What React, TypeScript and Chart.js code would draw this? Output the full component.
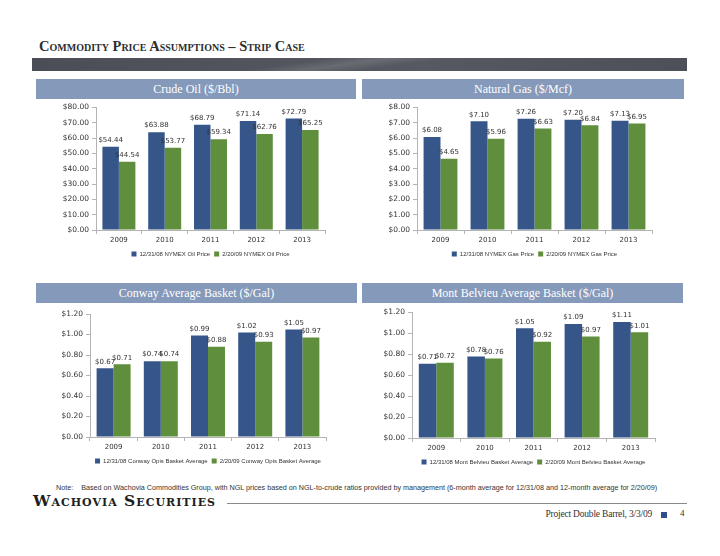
import React, { useEffect, useRef } from "react";
import { Chart, registerables } from "chart.js";

Chart.register(...registerables);

const years = ["2009", "2010", "2011", "2012", "2013"];

const oilDec = [54.44, 63.88, 68.79, 71.14, 72.79];
const oilFeb = [44.54, 53.77, 59.34, 62.76, 65.25];
const oilTicks = { max: 80, step: 10 };

const gasDec = [6.08, 7.1, 7.26, 7.2, 7.13];
const gasFeb = [4.65, 5.96, 6.63, 6.84, 6.95];
const gasTicks = { max: 8, step: 1 };

const conwayDec = [0.67, 0.74, 0.99, 1.02, 1.05];
const conwayFeb = [0.71, 0.74, 0.88, 0.93, 0.97];
const conwayTicks = { max: 1.2, step: 0.2 };

const belvieuDec = [0.71, 0.78, 1.05, 1.09, 1.11];
const belvieuFeb = [0.72, 0.76, 0.92, 0.97, 1.01];
const belvieuTicks = { max: 1.2, step: 0.2 };

const BLUE = "#36568a";
const GREEN = "#5f8f3c";
const AXIS = "#b4b4b4";
const TXT = "#333333";
const SANS = "'DejaVu Sans', sans-serif";
const ARIAL = "'Liberation Sans', sans-serif";

const valueLabels = {
  id: "valueLabels",
  afterDatasetsDraw(chart: any) {
    const ctx = chart.ctx;
    ctx.save();
    ctx.font = `7px ${SANS}`;
    ctx.fillStyle = TXT;
    ctx.textAlign = "center";
    ctx.textBaseline = "bottom";
    chart.data.datasets.forEach((ds: any, i: number) => {
      const meta = chart.getDatasetMeta(i);
      meta.data.forEach((el: any, j: number) => {
        ctx.fillText("$" + Number(ds.data[j]).toFixed(2), el.x, el.y - 3);
      });
    });
    ctx.restore();
  },
};

type Box = { cLeft: number; cTop: number; pLeft: number; pRight: number; pTop: number; pBottom: number };

const CW = 310;
const XH = 17;
const LH = 20;

function BarChart(props: {
  box: Box;
  dec: number[];
  feb: number[];
  decLabel: string;
  febLabel: string;
  ticks: { max: number; step: number };
}) {
  const ref = useRef<HTMLCanvasElement | null>(null);
  const { box } = props;
  const height = box.pBottom - box.cTop + XH + LH;
  useEffect(() => {
    if (!ref.current) return;
    const chart = new Chart(ref.current, {
      type: "bar",
      data: {
        labels: years,
        datasets: [
          { label: props.decLabel, data: props.dec, backgroundColor: BLUE, barPercentage: 1, categoryPercentage: 0.72 },
          { label: props.febLabel, data: props.feb, backgroundColor: GREEN, barPercentage: 1, categoryPercentage: 0.72 },
        ],
      },
      options: {
        responsive: false,
        animation: false,
        devicePixelRatio: 1,
        layout: { padding: { top: box.pTop - box.cTop, right: box.cLeft + CW - box.pRight, left: 0, bottom: 0 } },
        plugins: {
          tooltip: { enabled: false },
          legend: {
            position: "bottom",
            fullSize: false,
            labels: {
              boxWidth: 5,
              boxHeight: 5,
              padding: 4,
              color: TXT,
              font: { family: ARIAL, size: 6 },
            },
          },
        },
        scales: {
          x: {
            afterFit: (s: any) => {
              s.height = XH;
            },
            grid: { drawOnChartArea: false, drawTicks: true, tickLength: 4, color: AXIS, offset: true },
            border: { color: AXIS },
            ticks: { color: TXT, font: { family: SANS, size: 7 }, padding: 2, maxRotation: 0 },
          },
          y: {
            min: 0,
            max: props.ticks.max,
            afterFit: (s: any) => {
              s.width = box.pLeft - box.cLeft;
            },
            grid: { drawOnChartArea: false, drawTicks: true, tickLength: 4, color: AXIS },
            border: { color: AXIS },
            ticks: {
              stepSize: props.ticks.step,
              color: TXT,
              font: { family: SANS, size: 7.5 },
              padding: 3,
              callback: (v: any) => "$" + Number(v).toFixed(2),
            },
          },
        },
      },
      plugins: [valueLabels],
    });
    return () => chart.destroy();
  }, []);
  return (
    <canvas
      ref={ref}
      width={CW}
      height={height}
      style={{ position: "absolute", left: box.cLeft, top: box.cTop, width: CW, height }}
    />
  );
}

function Header(props: { left: number; top: number; width: number; text: string }) {
  return (
    <div
      style={{
        position: "absolute",
        left: props.left,
        top: props.top,
        width: props.width,
        height: 20,
        background: "#8599ba",
        color: "#ffffff",
        font: "12px 'Liberation Serif', serif",
        lineHeight: "20px",
        textAlign: "center",
      }}
    >
      {props.text}
    </div>
  );
}

export default function App() {
  return (
    <div style={{ position: "absolute", left: 0, top: 0, width: 720, height: 556, background: "#fff", overflow: "hidden" }}>
      <div
        style={{
          position: "absolute",
          left: 39,
          top: 38,
          font: "bold 14.5px 'Liberation Serif', serif",
          fontVariant: "small-caps",
          color: "#2e2e2e",
          whiteSpace: "nowrap",
        }}
      >
        Commodity Price Assumptions – Strip Case
      </div>
      <div
        style={{
          position: "absolute",
          left: 32,
          top: 58,
          width: 655,
          height: 13,
          background:
            "linear-gradient(172deg, rgba(255,255,255,0) 40%, rgba(255,255,255,0.12) 48%, rgba(255,255,255,0) 56%), linear-gradient(to right, #4b4e56, #565961 60%, #4d5058)",
        }}
      />
      <Header left={36} top={79} width={320} text="Crude Oil ($/Bbl)" />
      <Header left={362} top={79} width={322} text="Natural Gas ($/Mcf)" />
      <Header left={36} top={283} width={321} text="Conway Average Basket ($/Gal)" />
      <Header left={362} top={283} width={321} text="Mont Belvieu Average Basket ($/Gal)" />

      <BarChart
        box={{ cLeft: 40, cTop: 100, pLeft: 96, pRight: 325, pTop: 107, pBottom: 230 }}
        dec={oilDec}
        feb={oilFeb}
        decLabel="12/31/08 NYMEX Oil Price"
        febLabel="2/20/09 NYMEX Oil Price"
        ticks={oilTicks}
      />
      <BarChart
        box={{ cLeft: 370, cTop: 100, pLeft: 417, pRight: 652, pTop: 107, pBottom: 230 }}
        dec={gasDec}
        feb={gasFeb}
        decLabel="12/31/08 NYMEX Gas Price"
        febLabel="2/20/09 NYMEX Gas Price"
        ticks={gasTicks}
      />
      <BarChart
        box={{ cLeft: 40, cTop: 305, pLeft: 90, pRight: 326, pTop: 314, pBottom: 437 }}
        dec={conwayDec}
        feb={conwayFeb}
        decLabel="12/31/08 Conway Opis Basket Average"
        febLabel="2/20/09 Conway Opis Basket Average"
        ticks={conwayTicks}
      />
      <BarChart
        box={{ cLeft: 370, cTop: 305, pLeft: 412, pRight: 655, pTop: 312, pBottom: 438 }}
        dec={belvieuDec}
        feb={belvieuFeb}
        decLabel="12/31/08 Mont Belvieu Basket Average"
        febLabel="2/20/09 Mont Belvieu Basket Average"
        ticks={belvieuTicks}
      />

      <div
        style={{
          position: "absolute",
          left: 56,
          top: 483,
          font: "7.2px 'Liberation Sans', sans-serif",
          color: "#333333",
          whiteSpace: "nowrap",
        }}
      >
        Note:&nbsp;&nbsp;&nbsp;&nbsp;Based on Wachovia Commodities Group, with NGL prices based on NGL-to-crude ratios provided by
        management (6-month average for 12/31/08 and 12-month average for 2/20/09)
      </div>
      <div
        style={{
          position: "absolute",
          left: 33,
          top: 491,
          font: "bold 15.5px 'DejaVu Serif', serif",
          fontVariant: "small-caps",
          color: "#1e1e1e",
          whiteSpace: "nowrap",
          letterSpacing: "1px",
        }}
      >
        Wachovia Securities
      </div>
      <div style={{ position: "absolute", left: 227, top: 503, width: 460, height: 1, background: "#8a8a8a" }} />
      <div
        style={{
          position: "absolute",
          left: 520,
          top: 509,
          width: 132,
          textAlign: "right",
          font: "9.5px 'Liberation Serif', serif",
          letterSpacing: "-0.2px",
          color: TXT,
          whiteSpace: "nowrap",
        }}
      >
        Project Double Barrel, 3/3/09
      </div>
      <div style={{ position: "absolute", left: 661, top: 512, width: 6, height: 6, background: "#2f4f8f" }} />
      <div
        style={{
          position: "absolute",
          left: 680,
          top: 508,
          font: "9px 'Liberation Serif', serif",
          color: TXT,
        }}
      >
        4
      </div>
    </div>
  );
}
